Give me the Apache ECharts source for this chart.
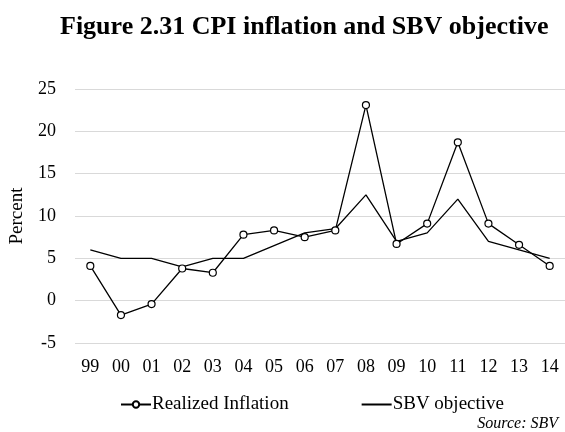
<!DOCTYPE html>
<html>
<head>
<meta charset="utf-8">
<script src="https://cdn.jsdelivr.net/npm/echarts@6/dist/echarts.min.js"></script>
<style>
  html, body { margin: 0; padding: 0; background: #fff; }
  #main { width: 565px; height: 432px; }
</style>
</head>
<body>
<div id="main"></div>
<script>
// years (two-digit labels)
var years = ['99', '00', '01', '02', '03', '04', '05', '06', '07', '08', '09', '10', '11', '12', '13', '14']
// realized CPI inflation, percent
var realized = [4.1, -1.7, -0.4, 3.8, 3.3, 7.8, 8.3, 7.5, 8.3, 23.1, 6.7, 9.1, 18.7, 9.1, 6.6, 4.1]
// SBV inflation objective, percent
var objective = [6, 5, 5, 4, 5, 5, 6.5, 8, 8.5, 12.5, 7, 8, 12, 7, 6, 5]

var font = '"Liberation Serif", "DejaVu Serif", serif'
var myChart = echarts.init(document.getElementById('main'))

var option = {
  animation: false,
  textStyle: { fontFamily: font },
  title: [
    {
      text: 'Figure 2.31 CPI inflation and SBV objective',
      left: 55,
      top: 9,
      textStyle: { fontFamily: font, fontSize: 26, fontWeight: 'bold', color: '#000' },
    },
    {
      text: 'Source: SBV',
      right: 2,
      top: 411,
      textStyle: { fontFamily: font, fontSize: 16, fontStyle: 'italic', fontWeight: 'normal', color: '#000' },
    },
  ],
  grid: { left: 73, right: 0, top: 89, bottom: 89 },
  legend: {
    top: 390,
    left: 115,
    itemWidth: 30,
    itemHeight: 8,
    itemGap: 72,
    textStyle: { fontFamily: font, fontSize: 19, color: '#000', padding: [0, 0, 0, -4] },
    data: [
      { name: 'Realized Inflation' },
      { name: 'SBV objective', itemStyle: { opacity: 0 } },
    ],
  },
  xAxis: {
    type: 'category',
    data: years,
    axisLine: { show: false },
    axisTick: { show: false },
    axisLabel: { color: '#000', fontSize: 18, margin: 15 },
  },
  yAxis: {
    type: 'value',
    min: -5,
    max: 25,
    interval: 5,
    name: 'Percent',
    nameLocation: 'middle',
    nameGap: 48,
    nameTextStyle: { fontFamily: font, fontSize: 19, color: '#000' },
    axisLabel: { color: '#000', fontSize: 18, margin: 19 },
    splitLine: { lineStyle: { color: '#d9d9d9', width: 1 } },
  },
  series: [
    {
      name: 'Realized Inflation',
      type: 'line',
      data: realized,
      symbol: 'circle',
      symbolSize: 7,
      itemStyle: { color: '#fff', borderColor: '#000', borderWidth: 1.2 },
      lineStyle: { color: '#000', width: 1.3 },
      z: 3,
    },
    {
      name: 'SBV objective',
      type: 'line',
      data: objective,
      symbol: 'none',
      itemStyle: { color: '#000' },
      lineStyle: { color: '#000', width: 1.3 },
      z: 2,
    },
  ],
}

myChart.setOption(option)
</script>
</body>
</html>
